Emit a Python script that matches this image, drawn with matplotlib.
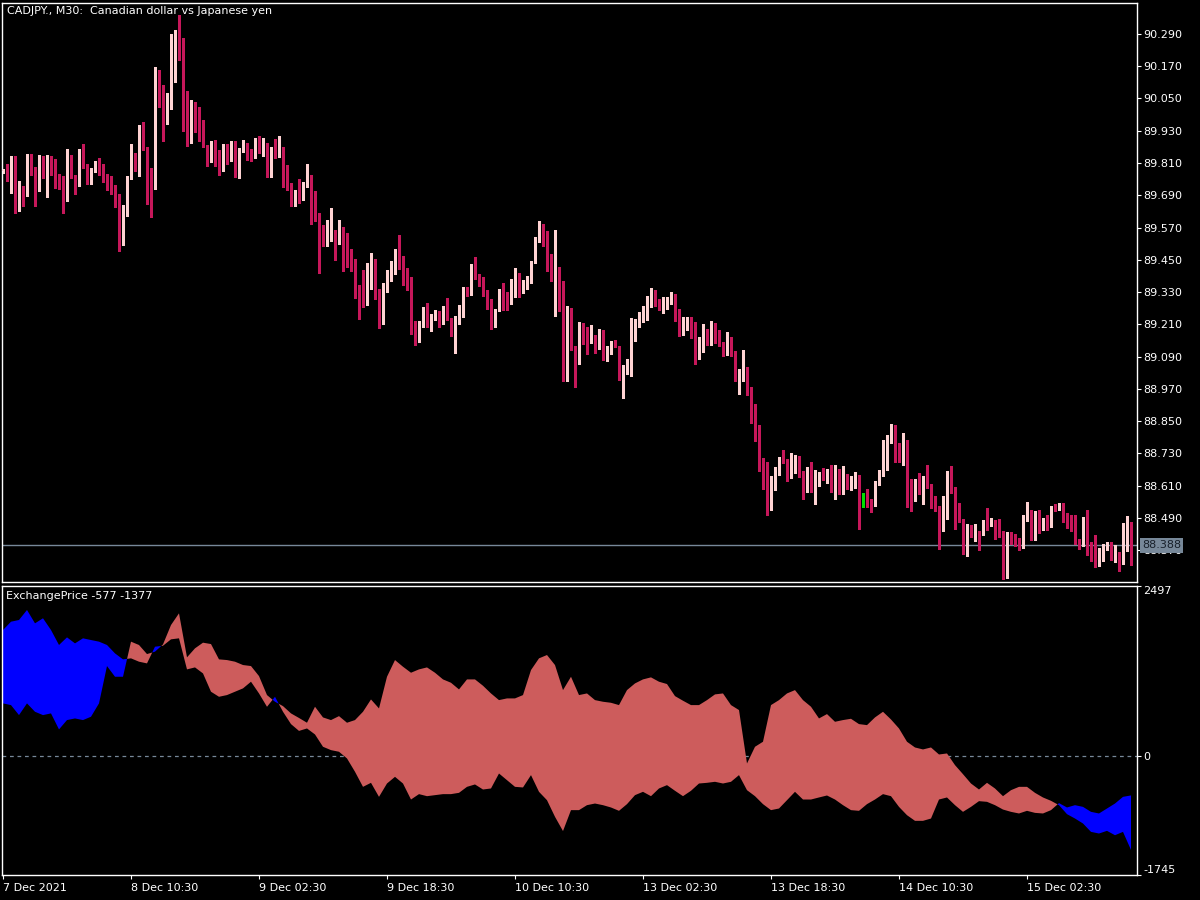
import matplotlib
matplotlib.use("Agg")
import matplotlib.pyplot as plt
import matplotlib.transforms as mtransforms
import numpy as np

# ---------------- data (CADJPY M30) ----------------
closes = [
 89.780, 89.747, 89.833, 89.633, 89.725, 89.690, 89.836, 89.770, 89.710, 89.810,
 89.762, 89.833, 89.788, 89.766, 89.757, 89.676, 89.836, 89.762, 89.747, 89.825,
 89.799, 89.770, 89.780, 89.813, 89.799, 89.762, 89.736, 89.720, 89.650, 89.524,
 89.643, 89.754, 89.829, 89.788, 89.918, 89.866, 89.725, 89.722, 90.085, 90.060,
 90.015, 90.015, 90.208, 90.300, 90.234, 89.985, 89.937, 90.015, 89.948, 89.940,
 89.877, 89.832, 89.840, 89.830, 89.784, 89.840, 89.836, 89.884, 89.762, 89.862,
 89.880, 89.855, 89.833, 89.892, 89.866, 89.871, 89.762, 89.866, 89.855, 89.866,
 89.740, 89.713, 89.658, 89.702, 89.676, 89.728, 89.750, 89.680, 89.600, 89.557,
 89.524, 89.524, 89.557, 89.516, 89.546, 89.494, 89.475, 89.416, 89.350, 89.297,
 89.282, 89.393, 89.420, 89.334, 89.240, 89.350, 89.386, 89.416, 89.464, 89.420,
 89.360, 89.353, 89.182, 89.148, 89.210, 89.267, 89.207, 89.245, 89.260, 89.237,
 89.267, 89.230, 89.182, 89.234, 89.245, 89.345, 89.320, 89.427, 89.382, 89.375,
 89.320, 89.297, 89.204, 89.263, 89.320, 89.304, 89.300, 89.371, 89.394, 89.330,
 89.360, 89.371, 89.442, 89.520, 89.576, 89.527, 89.464, 89.386, 89.408, 89.263,
 89.118, 89.260, 89.122, 89.103, 89.200, 89.163, 89.160, 89.167, 89.145, 89.186,
 89.092, 89.107, 89.145, 89.130, 89.048, 89.055, 89.063, 89.215, 89.215, 89.250,
 89.250, 89.308, 89.320, 89.286, 89.275, 89.290, 89.295, 89.315, 89.245, 89.174,
 89.220, 89.226, 89.167, 89.085, 89.148, 89.167, 89.140, 89.197, 89.170, 89.140,
 89.100, 89.140, 89.110, 89.025, 89.040, 89.047, 88.958, 88.860, 88.832, 88.706,
 88.650, 88.557, 88.639, 88.668, 88.713, 88.702, 88.661, 88.706, 88.710, 88.661,
 88.590, 88.631, 88.594, 88.620, 88.646, 88.640, 88.660, 88.590, 88.672, 88.583,
 88.631, 88.606, 88.620, 88.644, 88.565, 88.567, 88.557, 88.542, 88.617, 88.650,
 88.751, 88.777, 88.788, 88.725, 88.710, 88.747, 88.594, 88.587, 88.624, 88.587,
 88.632, 88.606, 88.546, 88.531, 88.472, 88.494, 88.617, 88.602, 88.531, 88.479,
 88.371, 88.442, 88.427, 88.435, 88.431, 88.472, 88.460, 88.483, 88.453, 88.435,
 88.267, 88.408, 88.400, 88.394, 88.379, 88.494, 88.513, 88.412, 88.502, 88.468,
 88.483, 88.460, 88.531, 88.520, 88.540, 88.509, 88.468, 88.457, 88.401, 88.390,
 88.460, 88.382, 88.368, 88.327, 88.375, 88.379, 88.397, 88.353, 88.364, 88.330,
 88.464, 88.467, 88.388,
]
highs = [
 89.786, 89.806, 89.836, 89.836, 89.742, 89.725, 89.842, 89.842, 89.795, 89.840,
 89.836, 89.838, 89.835, 89.825, 89.770, 89.760, 89.862, 89.838, 89.765, 89.862,
 89.880, 89.805, 89.792, 89.818, 89.829, 89.805, 89.768, 89.762, 89.730, 89.695,
 89.654, 89.760, 89.880, 89.847, 89.952, 89.963, 89.870, 89.790, 90.167, 90.156,
 90.100, 90.070, 90.290, 90.305, 90.360, 90.275, 90.078, 90.045, 90.037, 90.020,
 89.970, 89.877, 89.892, 89.896, 89.860, 89.880, 89.880, 89.892, 89.890, 89.866,
 89.896, 89.885, 89.862, 89.903, 89.910, 89.903, 89.885, 89.870, 89.900, 89.910,
 89.870, 89.803, 89.735, 89.708, 89.750, 89.738, 89.806, 89.765, 89.706, 89.625,
 89.580, 89.598, 89.643, 89.560, 89.598, 89.572, 89.550, 89.490, 89.453, 89.355,
 89.412, 89.440, 89.475, 89.453, 89.342, 89.365, 89.412, 89.446, 89.490, 89.542,
 89.464, 89.420, 89.386, 89.223, 89.223, 89.275, 89.290, 89.250, 89.265, 89.256,
 89.278, 89.308, 89.235, 89.240, 89.282, 89.350, 89.350, 89.435, 89.460, 89.398,
 89.386, 89.338, 89.305, 89.268, 89.342, 89.364, 89.330, 89.378, 89.420, 89.400,
 89.375, 89.390, 89.446, 89.535, 89.594, 89.583, 89.557, 89.470, 89.560, 89.423,
 89.370, 89.278, 89.270, 89.130, 89.219, 89.215, 89.200, 89.208, 89.170, 89.193,
 89.190, 89.130, 89.148, 89.152, 89.130, 89.058, 89.080, 89.234, 89.230, 89.255,
 89.278, 89.316, 89.345, 89.338, 89.304, 89.312, 89.312, 89.330, 89.322, 89.267,
 89.238, 89.238, 89.238, 89.219, 89.163, 89.211, 89.193, 89.222, 89.215, 89.189,
 89.143, 89.182, 89.163, 89.112, 89.045, 89.115, 89.050, 88.977, 88.914, 88.836,
 88.713, 88.698, 88.645, 88.680, 88.718, 88.743, 88.710, 88.732, 88.724, 88.720,
 88.665, 88.680, 88.698, 88.668, 88.661, 88.676, 88.672, 88.687, 88.687, 88.672,
 88.683, 88.654, 88.647, 88.660, 88.650, 88.583, 88.598, 88.560, 88.628, 88.669,
 88.780, 88.800, 88.840, 88.836, 88.770, 88.806, 88.780, 88.635, 88.635, 88.658,
 88.647, 88.687, 88.617, 88.572, 88.535, 88.572, 88.665, 88.684, 88.605, 88.546,
 88.485, 88.468, 88.464, 88.468, 88.440, 88.483, 88.527, 88.490, 88.480, 88.487,
 88.443, 88.438, 88.438, 88.431, 88.416, 88.502, 88.550, 88.520, 88.517, 88.520,
 88.490, 88.502, 88.535, 88.541, 88.545, 88.545, 88.510, 88.502, 88.502, 88.412,
 88.494, 88.520, 88.399, 88.427, 88.378, 88.394, 88.401, 88.400, 88.390, 88.365,
 88.470, 88.498, 88.475,
]
lows = [
 89.774, 89.743, 89.700, 89.623, 89.630, 89.650, 89.688, 89.765, 89.650, 89.705,
 89.755, 89.685, 89.765, 89.717, 89.714, 89.625, 89.670, 89.755, 89.696, 89.726,
 89.790, 89.732, 89.732, 89.775, 89.765, 89.740, 89.710, 89.695, 89.645, 89.484,
 89.505, 89.613, 89.750, 89.780, 89.762, 89.860, 89.658, 89.610, 89.715, 90.020,
 89.892, 89.955, 90.010, 90.110, 90.193, 89.930, 89.873, 89.885, 89.925, 89.892,
 89.870, 89.800, 89.815, 89.800, 89.765, 89.780, 89.806, 89.818, 89.758, 89.755,
 89.850, 89.820, 89.818, 89.828, 89.847, 89.836, 89.758, 89.758, 89.830, 89.833,
 89.720, 89.708, 89.650, 89.650, 89.660, 89.672, 89.722, 89.583, 89.595, 89.400,
 89.502, 89.502, 89.520, 89.450, 89.510, 89.408, 89.423, 89.410, 89.308, 89.230,
 89.275, 89.286, 89.342, 89.304, 89.196, 89.211, 89.330, 89.372, 89.397, 89.415,
 89.355, 89.338, 89.175, 89.133, 89.145, 89.200, 89.200, 89.185, 89.226, 89.200,
 89.212, 89.225, 89.167, 89.104, 89.212, 89.237, 89.314, 89.318, 89.378, 89.352,
 89.315, 89.267, 89.193, 89.200, 89.258, 89.263, 89.263, 89.286, 89.312, 89.312,
 89.325, 89.342, 89.365, 89.438, 89.516, 89.501, 89.408, 89.370, 89.240, 89.258,
 88.999, 88.999, 89.115, 88.977, 89.063, 89.137, 89.100, 89.141, 89.104, 89.118,
 89.078, 89.074, 89.100, 89.125, 89.003, 88.935, 89.025, 89.018, 89.148, 89.200,
 89.219, 89.226, 89.275, 89.280, 89.264, 89.252, 89.267, 89.285, 89.222, 89.165,
 89.170, 89.189, 89.160, 89.063, 89.080, 89.107, 89.135, 89.135, 89.141, 89.130,
 89.092, 89.095, 89.092, 88.999, 88.951, 89.000, 88.947, 88.843, 88.776, 88.665,
 88.598, 88.501, 88.518, 88.594, 88.650, 88.695, 88.627, 88.640, 88.657, 88.643,
 88.560, 88.585, 88.588, 88.542, 88.608, 88.631, 88.620, 88.585, 88.561, 88.579,
 88.580, 88.598, 88.595, 88.600, 88.450, 88.531, 88.531, 88.513, 88.535, 88.612,
 88.645, 88.670, 88.770, 88.698, 88.698, 88.688, 88.531, 88.516, 88.554, 88.580,
 88.543, 88.600, 88.527, 88.517, 88.375, 88.442, 88.487, 88.583, 88.450, 88.474,
 88.356, 88.349, 88.420, 88.405, 88.372, 88.428, 88.445, 88.463, 88.412, 88.418,
 88.262, 88.323, 88.395, 88.386, 88.372, 88.377, 88.480, 88.408, 88.408, 88.435,
 88.446, 88.446, 88.455, 88.517, 88.518, 88.475, 88.453, 88.442, 88.395, 88.375,
 88.385, 88.353, 88.330, 88.308, 88.310, 88.330, 88.370, 88.334, 88.327, 88.293,
 88.319, 88.368, 88.316,
]
first_open = 89.780
gap_opens = {155: 88.940}      # Monday open after weekend gap
green_doji = [215]             # bar drawn in line-chart colour
last_price = 88.388

price_ticks = [90.290, 90.170, 90.050, 89.930, 89.810, 89.690, 89.570, 89.450,
               89.330, 89.210, 89.090, 88.970, 88.850, 88.730, 88.610, 88.490, 88.370]
price_range = (88.252, 90.405)

time_tick_bars = [0, 32, 64, 96, 128, 160, 192, 224, 256]
time_tick_labels = ["7 Dec 2021", "8 Dec 10:30", "9 Dec 02:30", "9 Dec 18:30",
                    "10 Dec 10:30", "13 Dec 02:30", "13 Dec 18:30", "14 Dec 10:30",
                    "15 Dec 02:30"]

# ExchangePrice indicator, sampled every second bar
ind_line1 = [
 1851, 1973, 1998, 2145, 1949, 2023, 1851, 1631, 1743, 1655,
 1729, 1704, 1680, 1631, 1508, 1420, 1435, 1386, 1361, 1606,
 1620, 1714, 1729, 1273, 1302, 1214, 945, 871, 896, 945,
 994, 1092, 920, 724, 871, 651, 470, 370, 406, 318,
 137, 88, 64, -34, -230, -451, -392, -598, -402, -304,
 -402, -637, -558, -588, -573, -558, -558, -539, -451, -416,
 -490, -475, -255, -353, -451, -460, -279, -524, -647, -891,
 -1100, -793, -793, -720, -696, -720, -754, -803, -705, -573,
 -524, -588, -475, -426, -509, -588, -509, -402, -392, -377,
 -402, -377, -279, -500, -588, -705, -793, -769, -647, -524,
 -637, -637, -607, -578, -637, -720, -793, -803, -705, -637,
 -558, -588, -745, -867, -950, -950, -916, -637, -607, -720,
 -818, -745, -661, -671, -720, -784, -818, -842, -803, -833,
 -842, -793, -690, -754, -720, -745, -818, -842, -769, -696,
 -598, -577,
]
ind_line2 = [
 774, 749, 602, 774, 651, 602, 627, 392, 529, 553,
 529, 578, 774, 1322, 1165, 1165, 1680, 1631, 1498, 1533,
 1640, 1924, 2096, 1450, 1582, 1665, 1645, 1420, 1410, 1386,
 1337, 1322, 1175, 896, 798, 734, 627, 560, 490, 725,
 568, 529, 587, 490, 529, 651, 832, 700, 1165, 1410,
 1312, 1224, 1273, 1302, 1224, 1126, 1077, 979, 1126, 1126,
 1033, 920, 822, 847, 847, 896, 1263, 1435, 1484, 1337,
 969, 1165, 896, 920, 822, 798, 783, 749, 969, 1067,
 1126, 1156, 1092, 1058, 881, 813, 749, 749, 822, 906,
 920, 749, 676, -108, 137, 211, 749, 822, 920, 969,
 822, 725, 553, 617, 504, 529, 548, 470, 455, 568,
 651, 538, 406, 211, 127, 98, 127, 24, 39, -132,
 -265, -402, -490, -392, -475, -588, -500, -451, -451, -539,
 -607, -656, -720, -852, -916, -989, -1112, -1136, -1097, -1161,
 -1112, -1377,
]
ind_range = (-1745, 2497)
ind_ticks = [2497, 0, -1745]

# ---------------- style ----------------
BG = "#000000"
FG = "#FFFFFF"
BULL = "#FFD3D3"
BEAR = "#C6175A"
DOJI_GREEN = "#00E000"
SLATE = "#778899"
BLUE = "#0000FF"
SALMON = "#CD5C5C"
FONT = "DejaVu Sans"
FS = 8.0

plt.rcParams["font.family"] = FONT

W, H = 1200, 900
fig = plt.figure(figsize=(W / 100, H / 100), dpi=100, facecolor=BG)

def frac(x0, y0, x1, y1):
    return [x0 / W, 1 - y1 / H, (x1 - x0) / W, (y1 - y0) / H]

ax = fig.add_axes(frac(2, 3, 1137, 582), facecolor=BG)
ax2 = fig.add_axes(frac(2, 586, 1137, 875), facecolor=BG)

n = len(closes)
xs = np.arange(n)
opens = [first_open] + closes[:-1]
for i, v in gap_opens.items():
    opens[i] = v
opens = np.array(opens)
c = np.array(closes)
hi = np.maximum(np.array(highs), np.maximum(opens, c))
lo = np.minimum(np.array(lows), np.minimum(opens, c))

px = (price_range[1] - price_range[0]) / 579.0   # price per pixel
colors = []
for i in range(n):
    if i in green_doji:
        colors.append(DOJI_GREEN)
    elif c[i] >= opens[i]:
        colors.append(BULL)
    else:
        colors.append(BEAR)

body_bottom = np.minimum(opens, c)
body_h = np.maximum(np.abs(c - opens), px * 1.0)
ax.vlines(xs, lo, hi, colors=colors, linewidth=1.0, zorder=2, antialiased=False)
ax.bar(xs, body_h, bottom=body_bottom, width=0.75, color=colors,
       linewidth=0, zorder=3, antialiased=False)

ax.axhline(last_price, color=SLATE, lw=1.0, zorder=1)

ax.set_xlim(-0.25, 283.5)
ax.set_ylim(*price_range)
ax.yaxis.tick_right()
ax.set_yticks(price_ticks)
ax.set_yticklabels([f"{t:.3f}" for t in price_ticks])
ax.tick_params(axis="y", colors=FG, labelcolor=FG, labelsize=FS, length=3,
               width=0.8, pad=1.5, direction="out")
ax.tick_params(axis="x", bottom=False, labelbottom=False)
for s in ax.spines.values():
    s.set_color(FG)
    s.set_linewidth(1.0)

ax.text(5 / 1135, 1 - 8 / 579, "CADJPY., M30:  Canadian dollar vs Japanese yen",
        transform=ax.transAxes, color=FG, fontsize=FS, ha="left", va="center")

trans = mtransforms.blended_transform_factory(ax.transAxes, ax.transData)
ax.text(1 + 5 / 1135, last_price, f"{last_price:.3f}", transform=trans,
        color="#18202A", fontsize=FS, ha="left", va="center", zorder=20,
        clip_on=False,
        bbox=dict(boxstyle="square,pad=0.2", facecolor=SLATE, edgecolor="none"))

# ---------------- indicator panel ----------------
ix = np.arange(0, n, 2)[:len(ind_line1)]
l1 = np.array(ind_line1, dtype=float)
l2 = np.array(ind_line2, dtype=float)
ax2.fill_between(ix, l1, l2, where=l1 >= l2, interpolate=True, color=BLUE,
                 linewidth=0, zorder=2)
ax2.fill_between(ix, l1, l2, where=l1 < l2, interpolate=True, color=SALMON,
                 linewidth=0, zorder=2)
ax2.axhline(0, color=SLATE, lw=0.9, ls=(0, (3, 3)), zorder=1)

ax2.set_xlim(-0.25, 283.5)
ax2.set_ylim(*ind_range)
ax2.yaxis.tick_right()
ax2.set_yticks(ind_ticks)
ax2.set_yticklabels([str(t) for t in ind_ticks])
ax2.tick_params(axis="y", colors=FG, labelcolor=FG, labelsize=FS, length=3,
                width=0.8, pad=1.5, direction="out")
ylabels = ax2.get_yticklabels()
ylabels[0].set_va("top")
ylabels[2].set_va("bottom")

ax2.set_xticks(time_tick_bars)
ax2.set_xticklabels(time_tick_labels)
ax2.tick_params(axis="x", colors=FG, labelcolor=FG, labelsize=FS, length=3,
                width=0.8, pad=2.5, direction="out")
for lab in ax2.get_xticklabels():
    lab.set_ha("left")
for s in ax2.spines.values():
    s.set_color(FG)
    s.set_linewidth(1.0)

ax2.text(4 / 1135, 1 - 10 / 289,
         f"ExchangePrice {ind_line1[-1]} {ind_line2[-1]}",
         transform=ax2.transAxes, color=FG, fontsize=FS, ha="left", va="center")

fig.savefig("out.png", dpi=100, facecolor=BG)
